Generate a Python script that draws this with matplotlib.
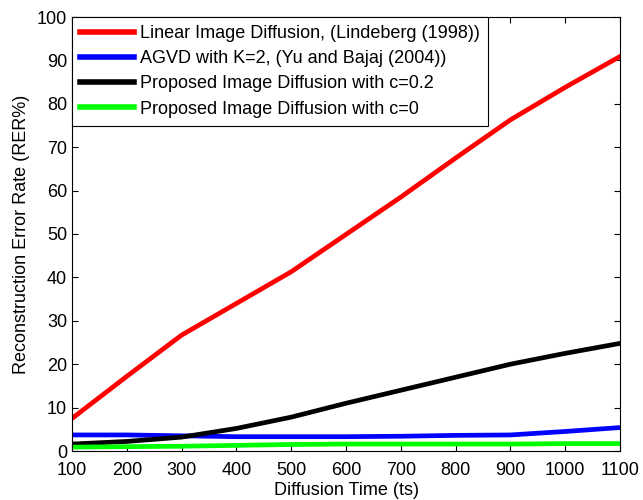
import matplotlib
matplotlib.use('Agg')
import matplotlib.pyplot as plt

plt.rcParams['font.family'] = ['Liberation Sans', 'DejaVu Sans']

# diffusion time steps
ts = [100, 200, 300, 400, 500, 600, 700, 800, 900, 1000, 1100]

# reconstruction error rate (%)
rer_linear = [7.5, 17.2, 26.7, 34.0, 41.3, 49.9, 58.5, 67.5, 76.3, 83.8, 90.9]
rer_agvd = [3.7, 3.7, 3.5, 3.3, 3.3, 3.3, 3.4, 3.6, 3.7, 4.5, 5.4]
rer_c02 = [1.6, 2.2, 3.2, 5.2, 7.8, 11.0, 14.0, 17.0, 20.0, 22.5, 24.8]
rer_c0 = [0.9, 1.0, 1.1, 1.3, 1.5, 1.6, 1.6, 1.6, 1.6, 1.7, 1.7]

labels = ['Linear Image Diffusion, (Lindeberg (1998))',
          'AGVD with K=2, (Yu and Bajaj (2004))',
          'Proposed Image Diffusion with c=0.2',
          'Proposed Image Diffusion with c=0']

fig = plt.figure(figsize=(6.43, 5.0), dpi=100)
ax = fig.add_axes([72 / 643, 1 - 451 / 500, 548 / 643, 434 / 500])

ax.plot(ts, rer_linear, color='#ff0000', lw=3.4, label=labels[0])
ax.plot(ts, rer_agvd, color='#0000ff', lw=3.4, label=labels[1])
ax.plot(ts, rer_c02, color='#000000', lw=3.4, label=labels[2])
ax.plot(ts, rer_c0, color='#00ff00', lw=3.4, label=labels[3])

ax.set_xlim(100, 1100)
ax.set_ylim(0, 100)
ax.set_xticks(range(100, 1101, 100))
ax.set_yticks(range(0, 101, 10))
ax.tick_params(direction='in', top=True, right=True, labelsize=13, length=4)
ax.tick_params(axis='x', pad=8)
ax.tick_params(axis='y', pad=3.5)
ax.set_xlabel('Diffusion Time (ts)', fontsize=13, labelpad=2)
ax.set_ylabel('Reconstruction Error Rate (RER%)', fontsize=13, labelpad=5)

leg = ax.legend(loc='upper left', fontsize=13, fancybox=False, framealpha=1,
                edgecolor='black', borderaxespad=0, handlelength=3.0,
                handletextpad=0.3, labelspacing=0.45, borderpad=0.45)
leg.get_frame().set_linewidth(0.8)
for line in leg.get_lines():
    line.set_linewidth(4)

plt.savefig('out.png', dpi=100)
